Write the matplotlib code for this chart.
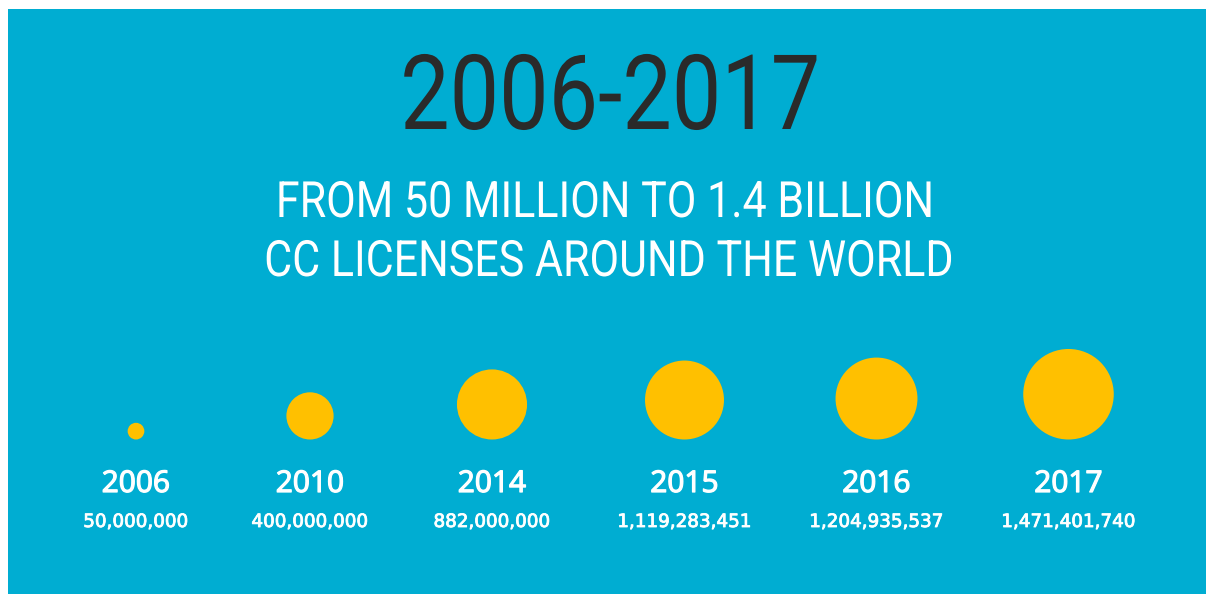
import numpy as np
import matplotlib
matplotlib.use('Agg')
import matplotlib.pyplot as plt
from matplotlib.patches import Circle, Rectangle
from matplotlib.patheffects import AbstractPathEffect, withStroke
from matplotlib.transforms import Affine2D

# Data
years = ['2006', '2010', '2014', '2015', '2016', '2017']
licenses = [50_000_000, 400_000_000, 882_000_000, 1_119_283_451, 1_204_935_537, 1_471_401_740]
title = '2006-2017'
subtitle = ['FROM 50 MILLION TO 1.4 BILLION', 'CC LICENSES AROUND THE WORLD']

# Layout (pixel coordinates)
W, H = 1206, 594
col_x = [136, 310, 492, 684.5, 876.5, 1068.5]
circle_bottom = 439.5
px_per_sqrt_million = 1.18

BLUE = '#00add2'
YELLOW = '#ffc000'
DARK = '#2a2a2a'


class Condense(AbstractPathEffect):
    # squeeze glyphs horizontally around cx (display px) to fake a condensed face
    def __init__(self, sx, cx):
        super().__init__()
        self.sx = sx
        self.cx = cx

    def draw_path(self, renderer, gc, tpath, affine, rgbFace=None):
        squeeze = Affine2D().translate(-self.cx, 0).scale(self.sx, 1).translate(self.cx, 0)
        renderer.draw_path(gc, tpath, affine + squeeze, rgbFace)


fig = plt.figure(figsize=(W / 100, H / 100), dpi=100)
fig.patch.set_facecolor('white')
ax = fig.add_axes([0, 0, 1, 1])
ax.set_xlim(0, W)
ax.set_ylim(H, 0)
ax.axis('off')

ax.add_patch(Rectangle((8, 9), W - 8, H - 9, facecolor=BLUE, edgecolor='none'))

ax.text(610, 129, title, ha='center', va='baseline', fontsize=75,
        color=DARK, family='Roboto', path_effects=[Condense(0.845, 610)])
ax.text(605, 217, subtitle[0], ha='center', va='baseline', fontsize=36,
        color='white', family='Roboto', path_effects=[Condense(0.86, 605)])
ax.text(609, 276, subtitle[1], ha='center', va='baseline', fontsize=36,
        color='white', family='Roboto', path_effects=[Condense(0.86, 609)])

# semibold look: regular face with a thin outline of the same colour
semi = [withStroke(linewidth=0.9, foreground='white')]
semi_small = [withStroke(linewidth=0.6, foreground='white')]

for x, yr, v in zip(col_x, years, licenses):
    r = px_per_sqrt_million * np.sqrt(v / 1e6)
    ax.add_patch(Circle((x, circle_bottom - r), r, facecolor=YELLOW, edgecolor='none'))
    ax.text(x, 492, yr, ha='center', va='baseline', fontsize=21.5,
            color='white', family=['Open Sans', 'DejaVu Sans'], path_effects=semi)
    ax.text(x, 527, f'{v:,}', ha='center', va='baseline', fontsize=13.2,
            color='white', family='DejaVu Sans', path_effects=semi_small)

fig.savefig('out.png', dpi=100, facecolor=fig.get_facecolor())
